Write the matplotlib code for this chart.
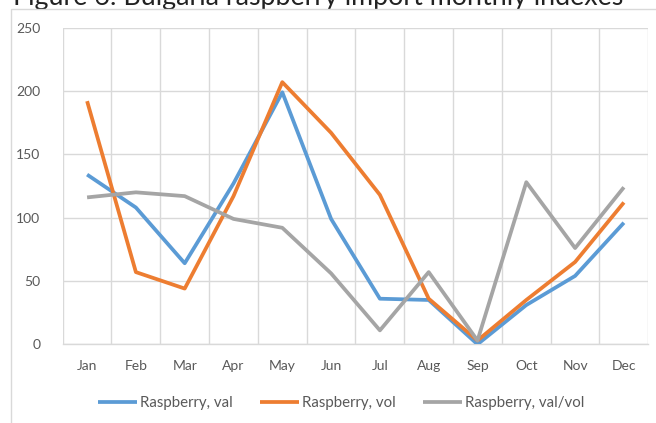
import matplotlib
matplotlib.use("Agg")
import matplotlib.pyplot as plt
from matplotlib.patches import Rectangle
import numpy as np

months = ["Jan", "Feb", "Mar", "Apr", "May", "Jun",
          "Jul", "Aug", "Sep", "Oct", "Nov", "Dec"]
raspberry_val = [134, 108, 64, 127, 199, 99, 36, 35, 0, 31, 54, 96]
raspberry_vol = [192, 57, 44, 117, 207, 167, 118, 36, 3, 35, 65, 112]
raspberry_val_vol = [116, 120, 117, 99, 92, 56, 11, 57, 3, 128, 76, 124]
series_names = ["Raspberry, val", "Raspberry, vol", "Raspberry, val/vol"]
y_ticks = [0, 50, 100, 150, 200, 250]

colors = ["#5B9BD5", "#ED7D31", "#A5A5A5"]
grid_color = "#D9D9D9"
text_color = "#595959"

plt.rcParams["font.family"] = ["Lato", "DejaVu Sans"]

W, H = 656, 423
fig = plt.figure(figsize=(W / 100, H / 100), dpi=100)
fig.patch.set_facecolor("white")

# Title sits partly above the page edge
fig.text(13 / W, 1 - 5 / H, "Figure 6: Bulgaria raspberry import monthly indexes",
         fontsize=19.3, color="#222222", ha="left", va="baseline", zorder=3)

# Chart frame (white fill hides the title's descenders)
frame = Rectangle((11 / W, -0.1), 1.0, (1 - 9 / H) + 0.1, transform=fig.transFigure,
                  facecolor="white", edgecolor=grid_color, lw=1.0, zorder=4)
fig.add_artist(frame)

left, right, top, bottom = 62.7, 648.3, 27.7, 344.3
ax = fig.add_axes([left / W, 1 - bottom / H, (right - left) / W, (bottom - top) / H])
ax.set_zorder(5)
ax.patch.set_alpha(0)

x = np.arange(len(months))
for vals, c, name in zip([raspberry_val, raspberry_vol, raspberry_val_vol], colors, series_names):
    ax.plot(x, vals, color=c, lw=2.7, label=name, solid_joinstyle="round",
            solid_capstyle="butt", zorder=3)

ax.set_xlim(-0.5, len(months) - 0.5)
ax.set_ylim(0, 250)
ax.set_yticks(y_ticks)
ax.set_xticks(x)
ax.set_xticklabels(months)
ax.set_xticks(np.arange(-0.5, len(months)), minor=True)

ax.grid(which="major", axis="y", color=grid_color, lw=1.0)
ax.grid(which="minor", axis="x", color=grid_color, lw=1.0)
ax.grid(which="major", axis="x", visible=False)
ax.set_axisbelow(True)

for s in ax.spines.values():
    s.set_visible(False)
ax.spines["bottom"].set_visible(True)
ax.spines["bottom"].set_color(grid_color)
ax.spines["bottom"].set_linewidth(1.0)

ax.tick_params(axis="both", which="both", length=0, labelsize=10, labelcolor=text_color)
ax.tick_params(axis="x", pad=11)
ax.tick_params(axis="y", pad=16)

handles, labels = ax.get_legend_handles_labels()
leg = fig.legend(handles, labels, loc="center", bbox_to_anchor=(341 / W, 1 - 403 / H),
                 ncol=3, frameon=False, fontsize=10.8, handlelength=2.6,
                 handletextpad=0.2, columnspacing=1.8)
for t in leg.get_texts():
    t.set_color(text_color)
leg.set_zorder(6)

fig.savefig("out.png", dpi=100, facecolor="white")
